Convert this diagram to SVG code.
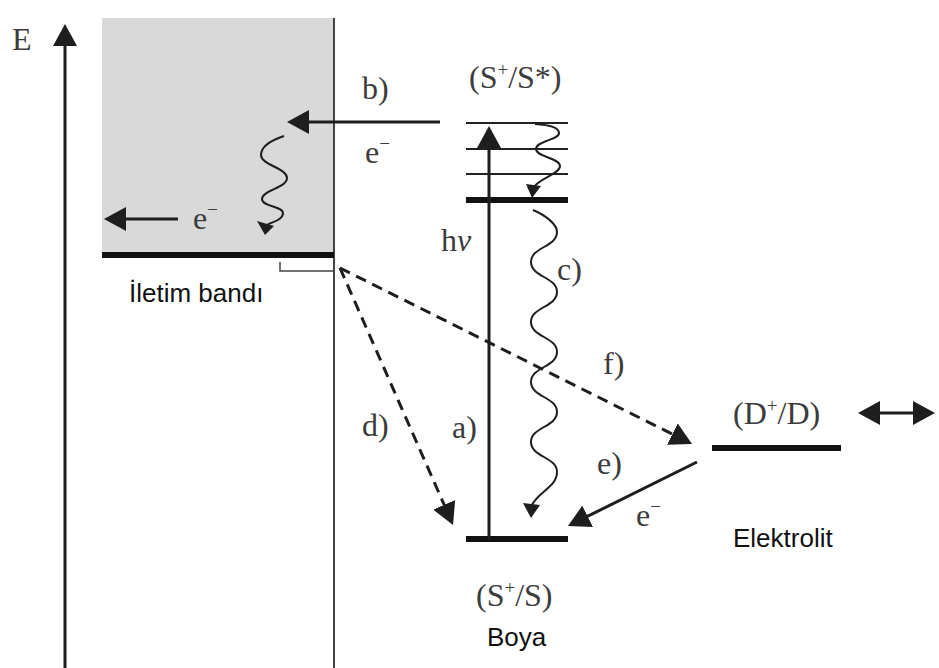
<svg xmlns="http://www.w3.org/2000/svg" width="939" height="668" viewBox="0 0 939 668">
<style>
.serif{font-family:"Liberation Serif","Times New Roman",serif;font-size:32px;fill:#3c3c3c}
.sans{font-family:"Liberation Sans",Arial,sans-serif;font-size:26px;fill:#111}
.ln{stroke:#1e1e1e;stroke-width:3;fill:none}
.dash{stroke:#1e1e1e;stroke-width:3;fill:none;stroke-dasharray:11 7}
.wave{stroke:#1e1e1e;stroke-width:2;fill:none}
.thin{stroke:#222;stroke-width:2}
.bar{stroke:#111;stroke-width:6}
.head{fill:#1e1e1e}
</style>
<defs>
<marker id="ah" viewBox="0 0 22 24" refX="10" refY="12" markerWidth="22" markerHeight="24" markerUnits="userSpaceOnUse" orient="auto-start-reverse">
<path d="M0,0 L22,12 L0,24 Z" fill="#1e1e1e"/>
</marker>
</defs>
<rect width="939" height="668" fill="#fff"/>

<g id="axis">
<line x1="65" y1="668" x2="65" y2="36" class="ln" marker-end="url(#ah)"/>
<text x="12" y="50" class="serif">E</text>
</g>

<g id="semiconductor">
<rect x="102" y="18" width="232" height="237" fill="#d9d9d9"/>
<line x1="334" y1="18" x2="334" y2="668" stroke="#444" stroke-width="2"/>
<line x1="102" y1="255" x2="334" y2="255" class="bar"/>
<path d="M280,262 V271 H334" stroke="#444" stroke-width="1.5" fill="none"/>
<text x="129" y="302" class="sans">İletim bandı</text>
</g>

<g id="dye-excited">
<line x1="466" y1="123" x2="568" y2="123" class="thin"/>
<line x1="466" y1="149" x2="568" y2="149" class="thin"/>
<line x1="466" y1="174" x2="568" y2="174" class="thin"/>
<line x1="466" y1="200" x2="568" y2="200" class="bar"/>
<text x="469" y="88" class="serif">(S<tspan font-size="19" dy="-12">+</tspan><tspan dy="12">/S*)</tspan></text>
</g>

<g id="dye-ground">
<line x1="466" y1="539" x2="568" y2="539" class="bar"/>
<text x="476" y="606" class="serif">(S<tspan font-size="19" dy="-12">+</tspan><tspan dy="12">/S)</tspan></text>
<text x="487" y="646" class="sans" font-size="25">Boya</text>
</g>

<g id="electrolyte">
<line x1="712" y1="448" x2="841" y2="448" class="bar"/>
<text x="733" y="424" class="serif">(D<tspan font-size="19" dy="-12">+</tspan><tspan dy="12">/D)</tspan></text>
<text x="733" y="547" class="sans">Elektrolit</text>
</g>

<g id="connectors">
<line x1="440" y1="122" x2="299" y2="122" class="ln" marker-end="url(#ah)"/>
<line x1="178" y1="219" x2="116" y2="219" class="ln" marker-end="url(#ah)"/>
<line x1="489" y1="540" x2="489" y2="138" class="ln" marker-end="url(#ah)"/>
<line x1="340" y1="268" x2="448.2" y2="514" class="dash" marker-end="url(#ah)"/>
<line x1="340" y1="268" x2="681.3" y2="438.6" class="dash" marker-end="url(#ah)"/>
<line x1="697" y1="462" x2="578.7" y2="520.7" class="ln" marker-end="url(#ah)"/>
<line x1="870" y1="413" x2="923" y2="413" class="ln" marker-start="url(#ah)" marker-end="url(#ah)"/>

<path d="M284,136 C272,140 261,146 261,155 C261,165 287,168 287,178 C287,188 262,190 262,199 C262,207 283,206 283,213 C283,220 272,222 267,225" class="wave"/>
<polygon points="257,221 274,226 265,235" class="head"/>
<path d="M535,124 C552,125 559,128 559,133 C559,140 536,141 536,149 C536,157 560,158 560,166 C560,174 540,178 534,187" class="wave"/>
<polygon points="526,184 541,186 532,198" class="head"/>
<path d="M533,210 C545,215 557,224 557,232 C557,247 531,247 531,262 C531,277 557,277 557,292 C557,307 531,307 531,322 C531,337 557,337 557,352 C557,367 531,367 531,382 C531,397 557,397 557,412 C557,427 531,427 531,442 C531,457 557,457 557,472 C557,487 538,492 532,505" class="wave"/>
<polygon points="523,503 540,505 531,518" class="head"/>
</g>

<g id="labels">
<text x="362" y="99" class="serif">b)</text>
<text x="365" y="163" class="serif">e<tspan font-size="19" dy="-13">−</tspan></text>
<text x="193" y="229" class="serif">e<tspan font-size="19" dy="-13">−</tspan></text>
<text x="441" y="251" class="serif">h<tspan font-style="italic">ν</tspan></text>
<text x="557" y="280" class="serif">c)</text>
<text x="603" y="374" class="serif">f)</text>
<text x="362" y="436" class="serif">d)</text>
<text x="452" y="438" class="serif">a)</text>
<text x="597" y="474" class="serif">e)</text>
<text x="636" y="526" class="serif">e<tspan font-size="19" dy="-13">−</tspan></text>
</g>
</svg>
